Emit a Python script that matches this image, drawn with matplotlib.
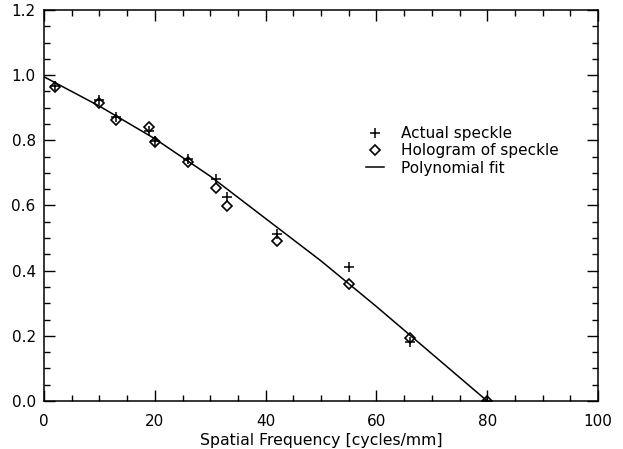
import matplotlib
matplotlib.use("Agg")
import matplotlib.pyplot as plt
from matplotlib.ticker import MultipleLocator, FormatStrFormatter

# Data
freq = [2, 10, 13, 19, 20, 26, 31, 33, 42, 55, 66, 80]
actual = [0.966, 0.925, 0.872, 0.83, 0.797, 0.742, 0.682, 0.626, 0.513, 0.41, 0.18, 0.0]
hologram = [0.964, 0.914, 0.863, 0.841, 0.796, 0.735, 0.655, 0.597, 0.492, 0.359, 0.192, 0.0]
fit_x = [0, 10, 20, 30, 40, 50, 60, 70, 80]
fit_y = [0.995, 0.905, 0.805, 0.69, 0.56, 0.43, 0.29, 0.145, 0.0]

plt.rcParams['font.family'] = ['DejaVu Sans']
fig = plt.figure(figsize=(6.23, 4.49), dpi=100)
L, R, T, B = 44, 598, 10, 401
ax = fig.add_axes([L/623, (449-B)/449, (R-L)/623, (B-T)/449])

ax.plot(freq, actual, linestyle='none', marker='+', color='black', markersize=7, markeredgewidth=1.1, label='Actual speckle')
ax.plot(freq, hologram, linestyle='none', marker='D', markerfacecolor='none', markeredgecolor='black', markersize=5.5, markeredgewidth=1.2, label='Hologram of speckle')
ax.plot(fit_x, fit_y, color='black', linewidth=1.1, label='Polynomial fit')

ax.set_xlim(0, 100)
ax.set_ylim(0, 1.2)
ax.xaxis.set_major_locator(MultipleLocator(20))
ax.xaxis.set_minor_locator(MultipleLocator(5))
ax.yaxis.set_major_locator(MultipleLocator(0.2))
ax.yaxis.set_minor_locator(MultipleLocator(0.05))
ax.yaxis.set_major_formatter(FormatStrFormatter('%.1f'))
ax.tick_params(which='both', direction='in', top=True, right=True, labelsize=11, width=1.0)
ax.tick_params(which='major', length=8)
ax.tick_params(which='minor', length=4.5)
ax.tick_params(axis='x', which='major', pad=9)
ax.tick_params(axis='y', which='major', pad=6)
for s in ax.spines.values():
    s.set_linewidth(1.1)

ax.set_xlabel('Spatial Frequency [cycles/mm]', fontsize=11.3, labelpad=3)

leg = ax.legend(loc='upper left', bbox_to_anchor=((366-L)/(R-L), (B-126)/(B-T)), frameon=False, fontsize=11,
                handlelength=1.2, handletextpad=1.1, labelspacing=0.15, borderpad=0, borderaxespad=0)

fig.savefig('out.png', dpi=100)
